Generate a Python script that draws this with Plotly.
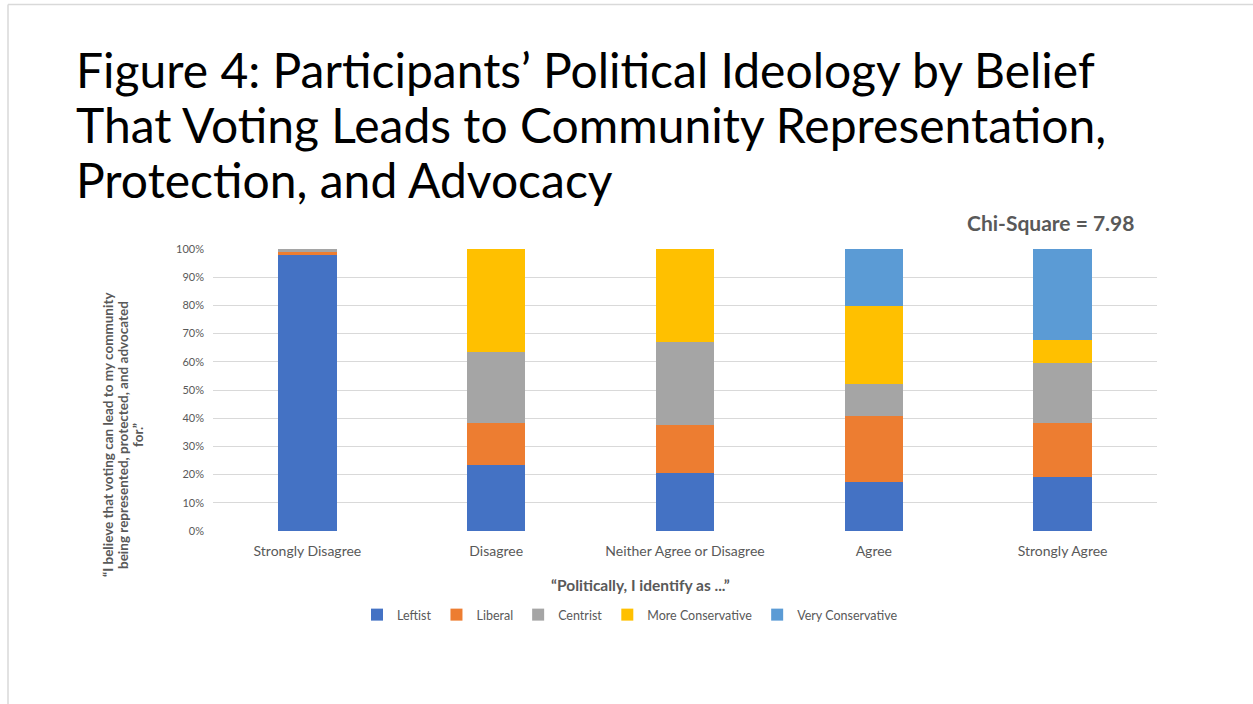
import plotly.graph_objects as go

# Response categories (x axis) and political identity groups (stack order, bottom to top)
responses = ["Strongly Disagree", "Disagree", "Neither Agree or Disagree", "Agree", "Strongly Agree"]
ideologies = ["Leftist", "Liberal", "Centrist", "More Conservative", "Very Conservative"]

# Share of each response group by ideology (fractions of 1)
leftist = [0.982, 0.233, 0.207, 0.175, 0.191]
liberal = [0.006, 0.149, 0.169, 0.234, 0.192]
centrist = [0.012, 0.254, 0.295, 0.112, 0.212]
more_conservative = [0.0, 0.364, 0.329, 0.277, 0.082]
very_conservative = [0.0, 0.0, 0.0, 0.202, 0.323]

series = [leftist, liberal, centrist, more_conservative, very_conservative]
colors = ["#4472C4", "#ED7D31", "#A5A5A5", "#FFC000", "#5B9BD5"]

title_lines = [
    "Figure 4: Participants’ Political Ideology by Belief",
    "That Voting Leads to Community Representation,",
    "Protection, and Advocacy",
]
ytitle_lines = [
    "“I believe that voting can lead to my community",
    "being represented, protected, and advocated",
    "for.”",
]

W, H = 1253, 704
ML, MR, MT, MB = 213, 96, 249, 173
PW, PH = W - ML - MR, H - MT - MB


def px_x(px):
    return (px - ML) / PW


def px_y(py):
    return (H - MB - py) / PH


fig = go.Figure()
for name, vals, col in zip(ideologies, series, colors):
    fig.add_trace(go.Bar(x=responses, y=vals, name=name, marker_color=col,
                         marker_line_width=0))

FONT = "Lato"
GRAY = "#595959"

fig.update_layout(
    width=W, height=H,
    margin=dict(l=ML, r=MR, t=MT, b=MB),
    barmode="stack",
    bargap=0.69,
    plot_bgcolor="white",
    paper_bgcolor="white",
    font=dict(family=FONT, color=GRAY),
    showlegend=True,
    legend=dict(orientation="h", x=px_x(630), xanchor="center",
                y=px_y(615), yanchor="middle",
                font=dict(size=12.5, color=GRAY, family=FONT),
                traceorder="normal", itemwidth=30),
    xaxis=dict(showgrid=False, showline=False, ticks="outside", ticklen=7,
               tickcolor="rgba(0,0,0,0)",
               tickfont=dict(size=14, color=GRAY, family=FONT)),
    yaxis=dict(range=[0, 1], dtick=0.1, tickformat=".0%", showgrid=True,
               gridcolor="#d9d9d9", gridwidth=1, zeroline=False, showline=False,
               ticklabelstandoff=8,
               tickfont=dict(size=11, color=GRAY, family=FONT)),
)

annotations = []
# Slide title, one annotation per line so the line spacing is fixed
for i, line in enumerate(title_lines):
    annotations.append(dict(
        text=line, xref="paper", yref="paper", x=px_x(74), y=px_y(69 + 55 * i),
        xanchor="left", yanchor="middle", align="left", showarrow=False,
        font=dict(family=FONT, size=48, color="#000000")))

# Vertical axis caption, three centred rotated lines
for i, line in enumerate(ytitle_lines):
    annotations.append(dict(
        text=f"<b>{line}</b>", xref="paper", yref="paper",
        x=px_x(108 + 15 * i), y=px_y(435), xanchor="center", yanchor="middle",
        textangle=-90, showarrow=False,
        font=dict(family=FONT, size=13.5, color=GRAY)))

annotations += [
    dict(text="<b>Chi-Square = 7.98</b>", xref="paper", yref="paper",
         x=px_x(1136), y=px_y(222), xanchor="right", yanchor="middle",
         showarrow=False, font=dict(family=FONT, size=21, color=GRAY)),
    dict(text="<b>“Politically, I identify as ...”</b>", xref="paper", yref="paper",
         x=px_x(640), y=px_y(585), xanchor="center", yanchor="middle",
         showarrow=False, font=dict(family=FONT, size=15.5, color=GRAY)),
]
fig.update_layout(annotations=annotations)

# Slide frame lines along the top and left edges
fig.add_shape(type="line", xref="paper", yref="paper",
              x0=px_x(8), x1=px_x(1253), y0=px_y(4.5), y1=px_y(4.5),
              line=dict(color="#d9d9d9", width=1.5))
fig.add_shape(type="line", xref="paper", yref="paper",
              x0=px_x(8), x1=px_x(8), y0=px_y(4.5), y1=px_y(704),
              line=dict(color="#d9d9d9", width=1.5))

fig.write_html("out.html")
